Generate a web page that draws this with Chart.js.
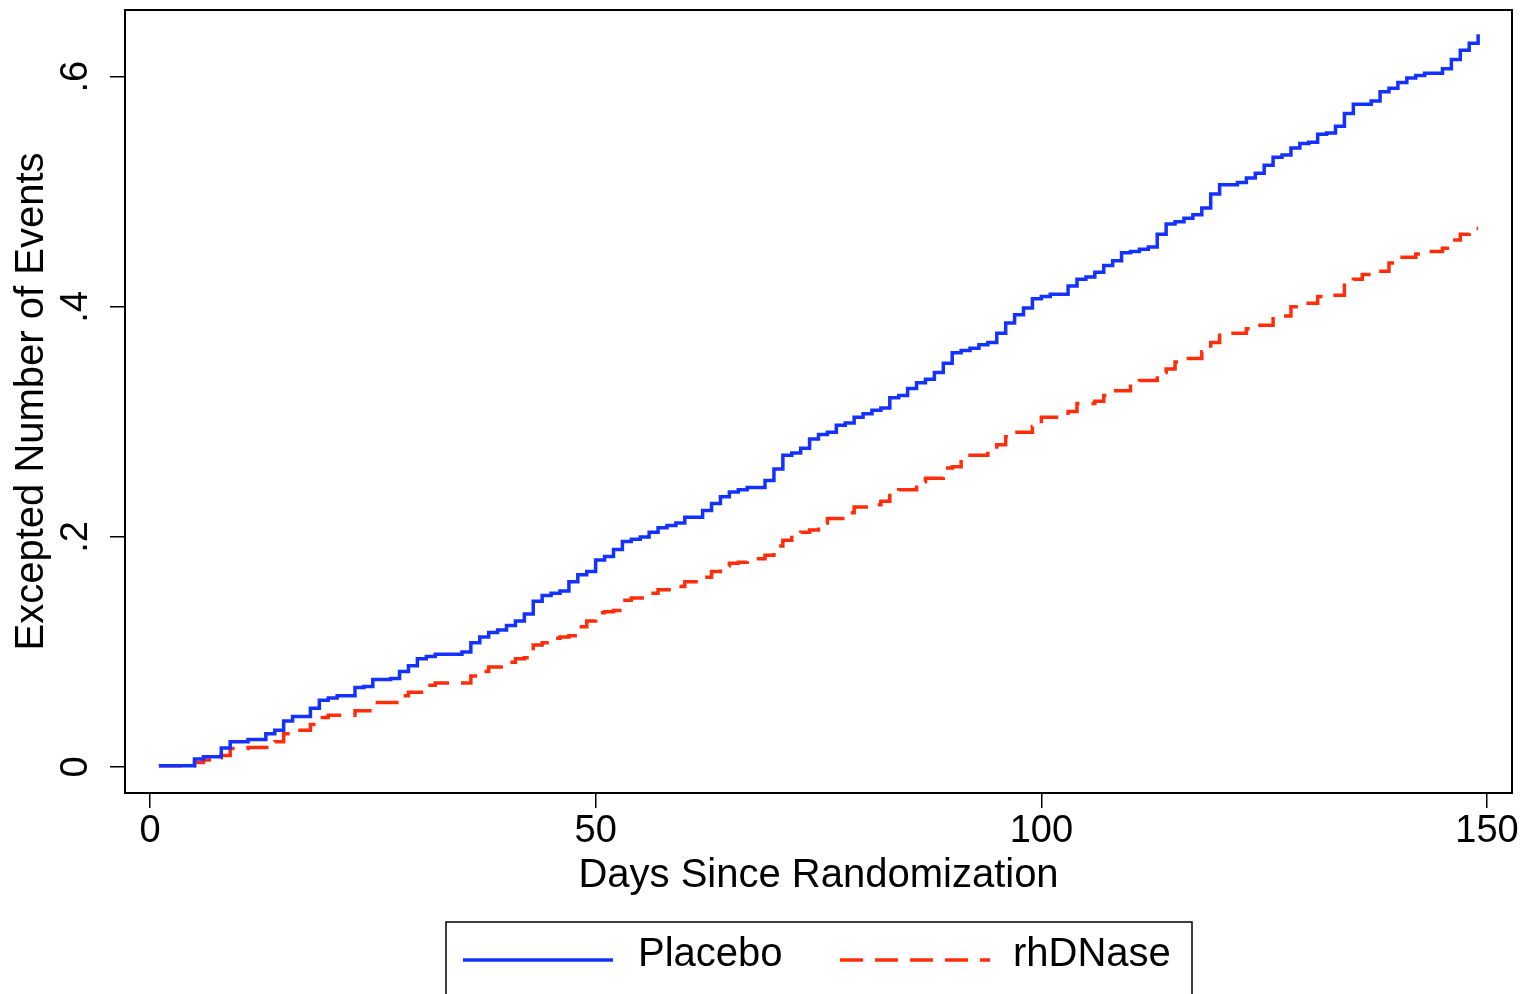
<!DOCTYPE html>
<html>
<head>
<meta charset="utf-8">
<script src="https://cdn.jsdelivr.net/npm/chart.js@4.4.0/dist/chart.umd.min.js"></script>
<style>
    html, body { margin: 0; padding: 0; background: #fff; }
    canvas { display: block; }
</style>
</head>
<body>
<canvas id="myChart" width="1530" height="994"></canvas>
<script>
// step points: day where the step happens, value after the step
const placeboDays = [1, 5, 6, 8, 9, 11, 13, 14, 15, 16, 18, 19, 20, 21, 23, 24, 25, 27, 28, 29, 30, 31, 32, 35, 36, 37, 38, 39, 40,
    41, 42, 43, 44, 45, 46, 47, 48, 49, 50, 51, 52, 53, 54, 55, 56, 57, 58, 59, 60, 62, 63, 64, 65, 66, 67, 69, 70,
    71, 72, 73, 74, 75, 76, 77, 78, 79, 80, 81, 82, 83, 84, 85, 86, 87, 88, 89, 90, 91, 92, 93, 94, 95, 96, 97, 98, 99, 100,
    101, 103, 104, 105, 106, 107, 108, 109, 110, 111, 112, 113, 114, 115, 116, 117, 118, 119, 120, 122, 123, 124, 125,
    126, 127, 128, 129, 130, 131, 132, 133, 134, 135, 137, 138, 139, 140, 141, 142, 143, 145, 146, 147, 148, 149]
const placeboValues = [0.001, 0.007, 0.009, 0.0165, 0.022, 0.024, 0.029, 0.032, 0.040, 0.044, 0.051, 0.058, 0.060, 0.062, 0.069, 0.070, 0.076, 0.077, 0.083, 0.088, 0.094, 0.096, 0.098, 0.100, 0.108, 0.113, 0.117, 0.119, 0.123,
    0.127, 0.133, 0.144, 0.149, 0.151, 0.153, 0.161, 0.167, 0.170, 0.180, 0.183, 0.189, 0.196, 0.198, 0.200, 0.204, 0.208, 0.210, 0.212, 0.217, 0.223, 0.229, 0.235, 0.239, 0.241, 0.243, 0.249, 0.259,
    0.271, 0.273, 0.277, 0.285, 0.289, 0.291, 0.297, 0.299, 0.304, 0.307, 0.310, 0.312, 0.321, 0.323, 0.329, 0.334, 0.337, 0.343, 0.351, 0.360, 0.362, 0.364, 0.367, 0.369, 0.377, 0.386, 0.393, 0.399, 0.407, 0.409,
    0.411, 0.418, 0.424, 0.426, 0.430, 0.436, 0.440, 0.447, 0.448, 0.450, 0.452, 0.463, 0.472, 0.474, 0.477, 0.480, 0.486, 0.498, 0.506, 0.508, 0.512, 0.516, 0.523,
    0.530, 0.532, 0.538, 0.542, 0.543, 0.550, 0.551, 0.557, 0.568, 0.576, 0.579, 0.587, 0.590, 0.595, 0.599, 0.601, 0.603, 0.607, 0.615, 0.623, 0.629, 0.637]

const rhdnaseDays = [1, 5, 6, 7, 8, 9, 11, 14, 15, 16, 18, 19, 20, 23, 25, 28, 29, 31, 32, 36, 37, 38, 40,
    41, 42, 43, 44, 45, 46, 47, 48, 49, 50, 51, 52, 53, 54, 56, 57, 59, 60, 62, 63, 64, 65, 66, 67, 69, 70,
    71, 72, 73, 74, 75, 76, 78, 79, 81, 82, 83, 84, 86, 87, 89, 90, 91, 92, 94, 95, 96, 97, 99, 100,
    103, 104, 106, 107, 108, 110, 111, 113, 114, 115, 116, 118, 119, 120, 123, 124, 126, 128, 129,
    131, 132, 134, 135, 136, 137, 139, 140, 142, 143, 145, 146, 147, 148, 149]
const rhdnaseValues = [0.001, 0.004, 0.006, 0.008, 0.010, 0.016, 0.017, 0.022, 0.029, 0.032, 0.037, 0.043, 0.045, 0.049, 0.056, 0.062, 0.065, 0.071, 0.073, 0.079, 0.083, 0.087, 0.091,
    0.094, 0.095, 0.106, 0.108, 0.112, 0.113, 0.114, 0.122, 0.127, 0.134, 0.135, 0.136, 0.145, 0.147, 0.151, 0.154, 0.157, 0.161, 0.165, 0.170, 0.175, 0.177, 0.178, 0.181, 0.184, 0.192,
    0.197, 0.203, 0.204, 0.206, 0.212, 0.216, 0.221, 0.226, 0.228, 0.231, 0.238, 0.241, 0.248, 0.251, 0.260, 0.261, 0.268, 0.271, 0.274, 0.280, 0.287, 0.291, 0.296, 0.304,
    0.309, 0.316, 0.318, 0.323, 0.327, 0.333, 0.336, 0.343, 0.346, 0.352, 0.355, 0.361, 0.369, 0.377, 0.381, 0.384, 0.392, 0.400, 0.403,
    0.409, 0.410, 0.421, 0.424, 0.428, 0.431, 0.438, 0.443, 0.446, 0.448, 0.451, 0.458, 0.463, 0.468, 0.468]

const xTicks = [0, 50, 100, 150]
const xTickLabels = ['0', '50', '100', '150']
const yTicks = [0, 0.2, 0.4, 0.6]
const yTickLabels = ['0', '.2', '.4', '.6']
const seriesNames = ['Placebo', 'rhDNase']

const blue = 'rgb(20, 50, 255)'
const red = 'rgb(255, 45, 10)'
const fontFamily = '"Liberation Sans", Arial, Helvetica, sans-serif'
const tickFont = '38px ' + fontFamily
const textFont = '40px ' + fontFamily

let toPoints = (days, values) => days.map((d, i) => ({ x: d, y: values[i] }))

// frame, tick labels, titles and the boxed legend
const stataLook = {
    id: 'stataLook',
    afterDraw(chart) {
        const ctx = chart.ctx
        const area = chart.chartArea
        const xs = chart.scales.x
        const ys = chart.scales.y
        ctx.save()
        ctx.strokeStyle = '#000'
        ctx.lineWidth = 2
        ctx.strokeRect(area.left, area.top, area.right - area.left, area.bottom - area.top)

        ctx.fillStyle = '#000'
        ctx.textAlign = 'center'
        ctx.textBaseline = 'middle'
        ctx.font = tickFont
        xTicks.forEach((v, i) => {
            ctx.fillText(xTickLabels[i], xs.getPixelForValue(v), 832)
        })
        yTicks.forEach((v, i) => {
            ctx.save()
            ctx.translate(77, ys.getPixelForValue(v))
            ctx.rotate(-Math.PI / 2)
            ctx.fillText(yTickLabels[i], 0, 0)
            ctx.restore()
        })

        ctx.font = textFont
        ctx.fillText('Days Since Randomization', (area.left + area.right) / 2, 876)
        ctx.save()
        ctx.translate(32, (area.top + area.bottom) / 2)
        ctx.rotate(-Math.PI / 2)
        ctx.fillText('Excepted Number of Events', 0, 0)
        ctx.restore()

        // legend
        ctx.lineWidth = 1.5
        ctx.strokeRect(446, 922, 746, 100)
        const ds = chart.data.datasets
        ctx.lineWidth = 3.5
        ctx.strokeStyle = ds[0].borderColor
        ctx.beginPath()
        ctx.moveTo(463, 960)
        ctx.lineTo(613, 960)
        ctx.stroke()
        ctx.strokeStyle = ds[1].borderColor
        ctx.setLineDash(ds[1].borderDash)
        ctx.beginPath()
        ctx.moveTo(840, 960)
        ctx.lineTo(990, 960)
        ctx.stroke()
        ctx.setLineDash([])
        ctx.textAlign = 'left'
        ctx.fillText(seriesNames[0], 638, 955)
        ctx.fillText(seriesNames[1], 1013, 955)
        ctx.restore()
    }
}

const config = {
    type: 'line',
    data: {
        datasets: [{
            label: seriesNames[0],
            data: toPoints(placeboDays, placeboValues),
            borderColor: blue,
            borderWidth: 3.5,
            stepped: true,
            pointRadius: 0,
            fill: false
        }, {
            label: seriesNames[1],
            data: toPoints(rhdnaseDays, rhdnaseValues),
            borderColor: red,
            borderWidth: 3.5,
            borderDash: [23, 12],
            stepped: true,
            pointRadius: 0,
            fill: false
        }]
    },
    options: {
        responsive: false,
        animation: false,
        devicePixelRatio: 1,
        layout: { padding: { top: 10, right: 18, left: 0, bottom: 0 } },
        plugins: { legend: { display: false }, tooltip: { enabled: false } },
        scales: {
            x: {
                type: 'linear',
                min: -2.8,
                max: 152.8,
                afterBuildTicks: s => { s.ticks = xTicks.map(v => ({ value: v })) },
                afterFit: s => { s.height = 201 },
                ticks: { display: false },
                border: { display: false },
                grid: { drawOnChartArea: false, drawTicks: true, tickLength: 15, color: '#000', lineWidth: 1.5 }
            },
            y: {
                type: 'linear',
                min: -0.0226,
                max: 0.658,
                afterBuildTicks: s => { s.ticks = yTicks.map(v => ({ value: v })) },
                afterFit: s => { s.width = 125 },
                ticks: { display: false },
                border: { display: false },
                grid: { drawOnChartArea: false, drawTicks: true, tickLength: 15, color: '#000', lineWidth: 1.5 }
            }
        }
    },
    plugins: [stataLook]
}

new Chart(document.getElementById('myChart'), config)
</script>
</body>
</html>
